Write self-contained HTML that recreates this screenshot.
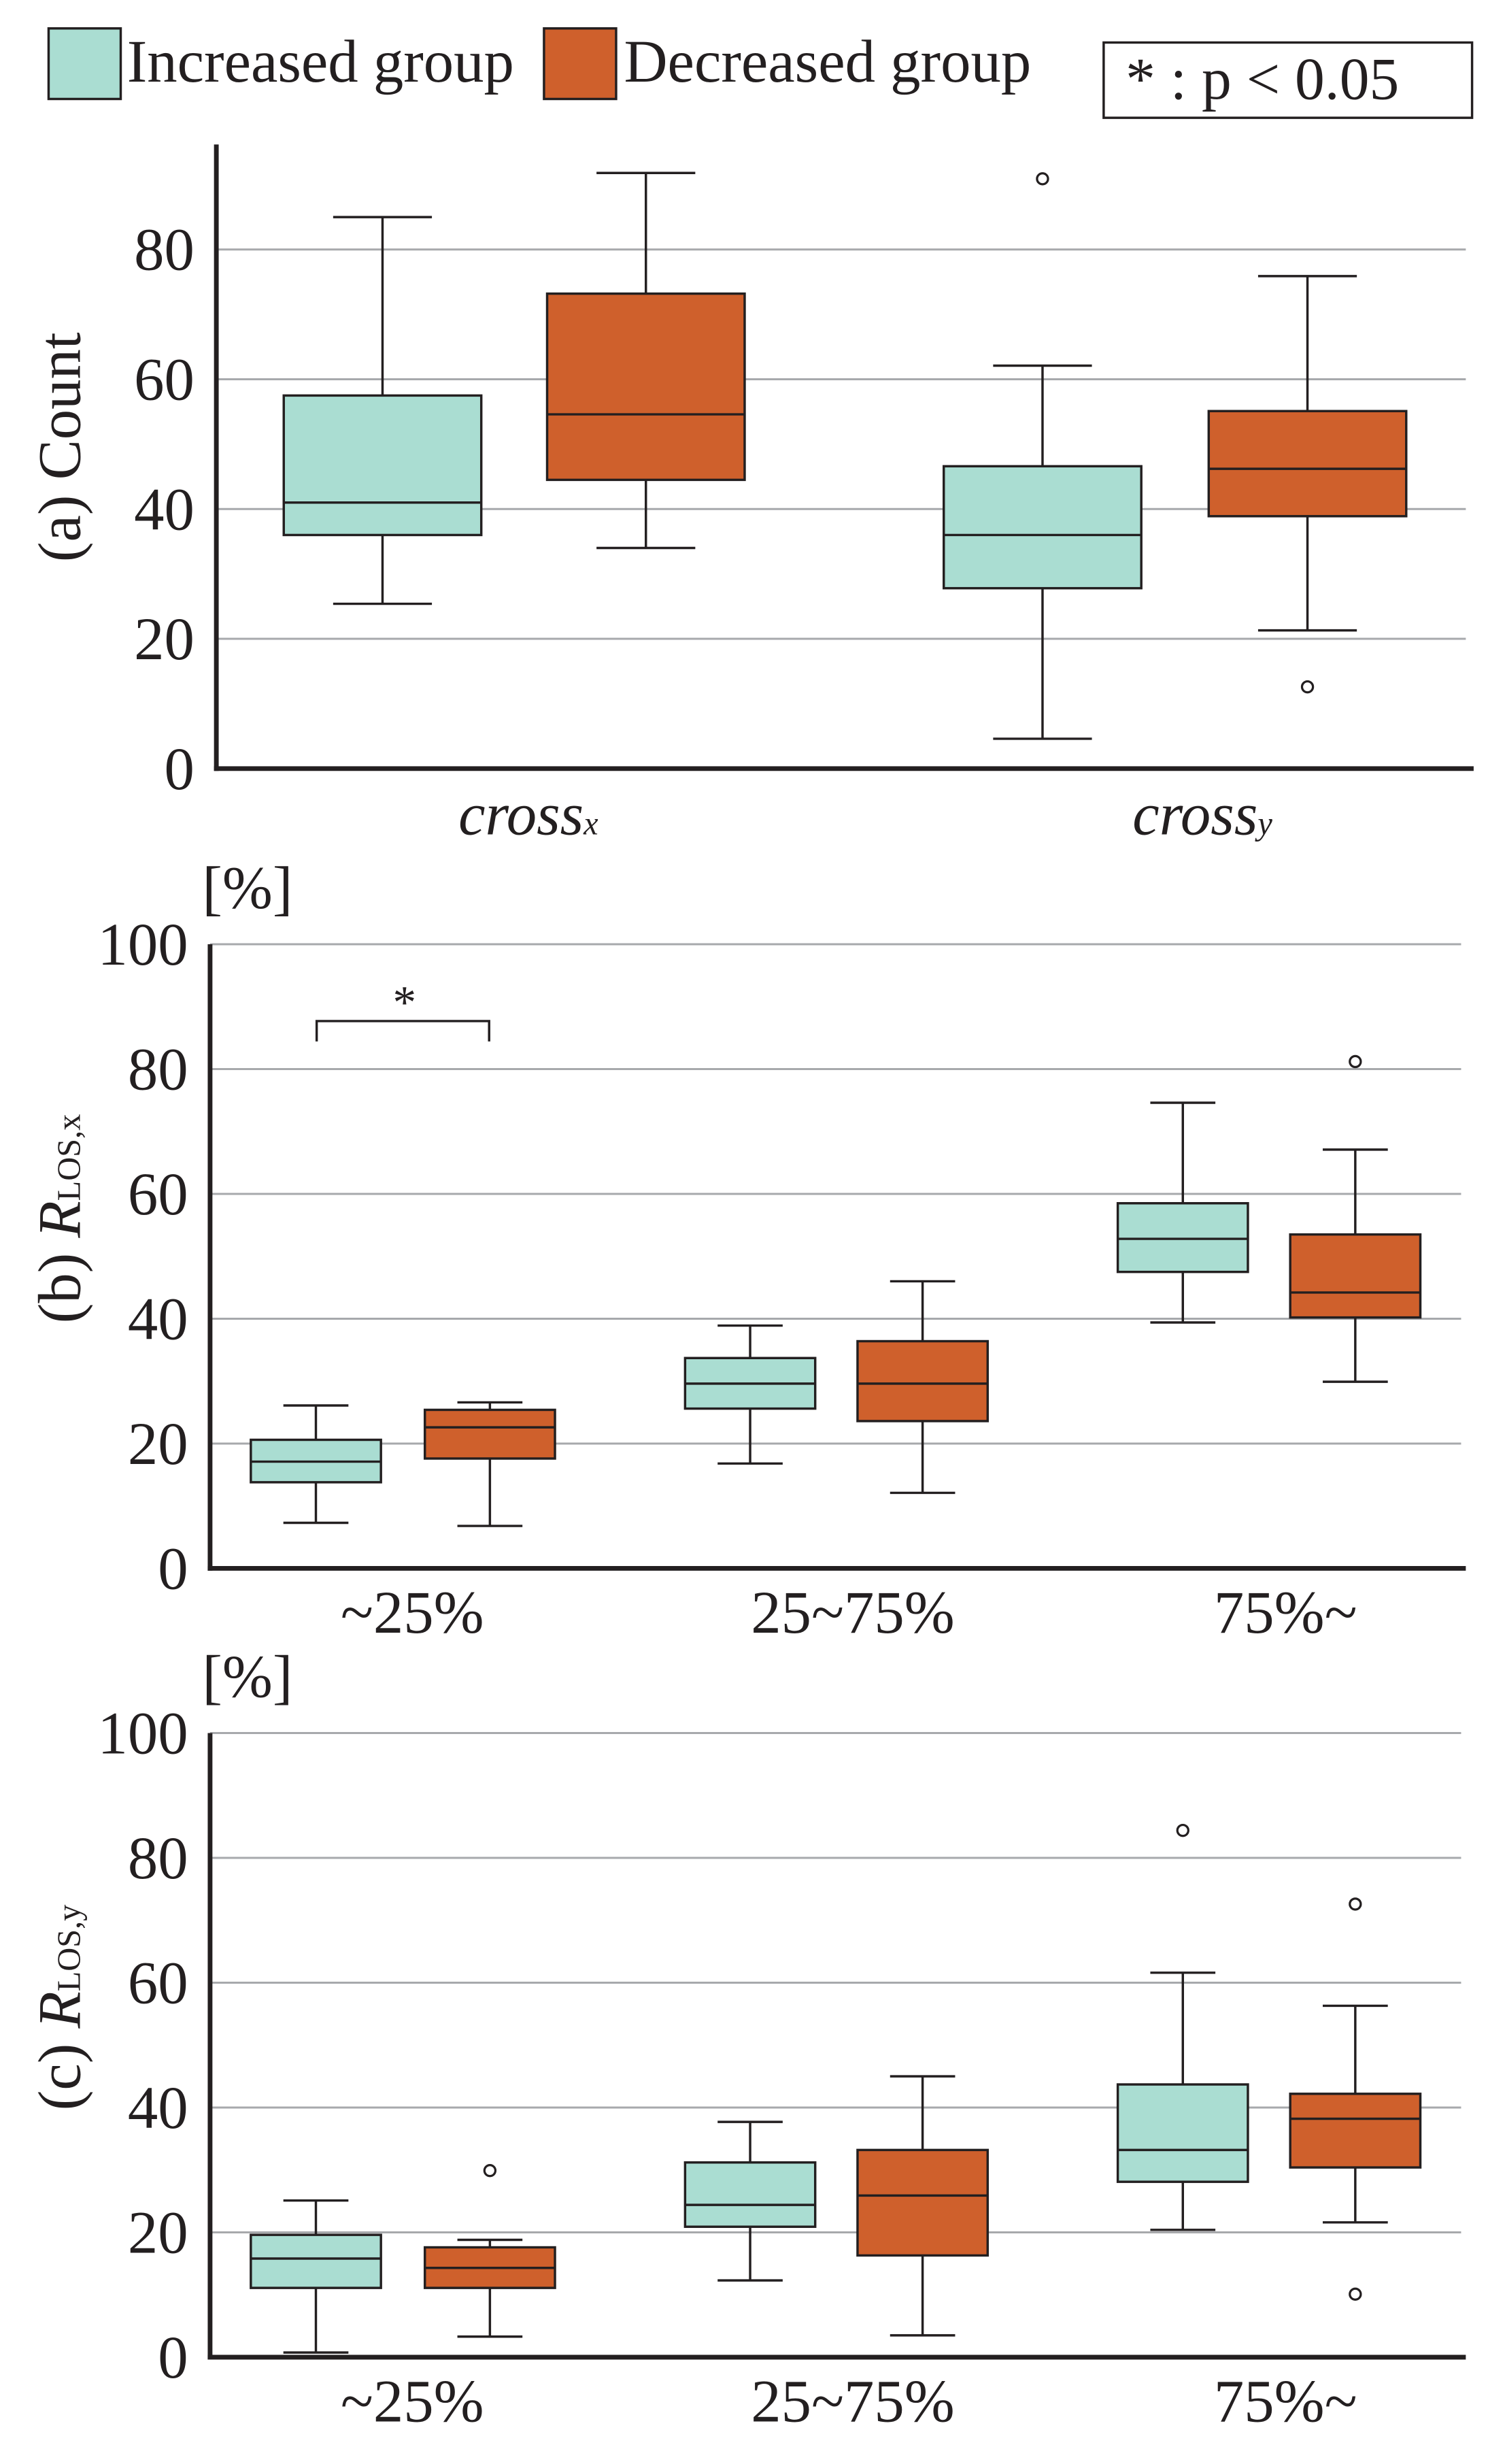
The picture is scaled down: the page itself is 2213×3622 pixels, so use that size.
<!DOCTYPE html>
<html><head><meta charset="utf-8">
<style>html,body{margin:0;padding:0;background:#fff}svg{display:block}</style></head>
<body>
<svg id="chart" width="2213" height="3622" viewBox="0 0 960 1571" xmlns="http://www.w3.org/2000/svg" font-family="'Liberation Serif', serif" fill="#231f20">
<g>
<rect x="31" y="18" width="46" height="45" fill="#aaddd2" stroke="#231f20" stroke-width="1.5"/>
<text x="81" y="52" font-size="38.5">Increased group</text>
<rect x="347" y="18" width="46" height="45" fill="#cf602c" stroke="#231f20" stroke-width="1.5"/>
<text x="398" y="52" font-size="38.5">Decreased group</text>
<rect x="704" y="27" width="235" height="48" fill="none" stroke="#231f20" stroke-width="1.5"/>
<text x="718" y="63" font-size="38">* : p &lt; 0.05</text>
</g>
<g id="plots"></g>
</svg>
<script>
const teal="#aaddd2", orange="#cf602c";
// Panel a: [low, q1, median, q3, high]
const aCategories=["cross_x","cross_y"];
const aIncreased=[[25.4,36,41,57.5,85],[4.6,27.8,36,46.6,62.1]];
const aDecreased=[[34,44.5,54.6,73.2,91.8],[21.3,38.9,46.2,55.1,75.9]];
const aIncreasedOutliers=[[],[90.9]];
const aDecreasedOutliers=[[],[12.6]];
const aTicks=[0,20,40,60,80];
// Panel b
const bCategories=["~25%","25~75%","75%~"];
const bIncreased=[[7.3,13.8,17.1,20.6,26.1],[16.8,25.6,29.6,33.7,38.9],[39.4,47.5,52.8,58.5,74.6]];
const bDecreased=[[6.8,17.6,22.6,25.4,26.6],[12.1,23.6,29.6,36.4,46.0],[29.9,40.2,44.2,53.5,67.1]];
const bIncreasedOutliers=[[],[],[]];
const bDecreasedOutliers=[[],[],[81.2]];
// Panel c
const cCategories=["~25%","25~75%","75%~"];
const cIncreased=[[0.75,11.1,15.8,19.6,25.1],[12.3,20.9,24.4,31.2,37.7],[20.4,28.1,33.2,43.7,61.6]];
const cDecreased=[[3.3,11.1,14.3,17.6,18.8],[3.5,16.3,25.9,33.2,45.0],[21.6,30.4,38.2,42.2,56.3]];
const cIncreasedOutliers=[[],[],[84.4]];
const cDecreasedOutliers=[[29.9],[],[72.6,10.1]];
const pctTicks=[0,20,40,60,80,100];

const NS="http://www.w3.org/2000/svg";
const FS=38.5;
const root=document.getElementById("plots");
function mk(tag,attrs,parent){const e=document.createElementNS(NS,tag);for(const k in attrs)e.setAttribute(k,attrs[k]);(parent||root).appendChild(e);return e;}

function panel(cfg){
  const g=mk("g",{});
  
  
  const y=v=>cfg.y0-(v)*(cfg.y0-cfg.yTop)/cfg.vTop;
  cfg.ticks.forEach(t=>{
    if(t>0){const l=mk("line",{x1:cfg.ax,x2:cfg.gx2,y1:y(t),y2:y(t),stroke:"#a7a9ac","stroke-width":1.3},g);
      
      }
    const tx=mk("text",{x:cfg.ax-14,y:y(t)+13,"font-size":FS,"text-anchor":"end"},g);
    
    
    tx.textContent=t;
  });
  const ya=mk("line",{x1:cfg.ax,x2:cfg.ax,y1:cfg.axTop,y2:cfg.y0+1.5,stroke:"#231f20","stroke-width":3},g);
  
  
  const xa=mk("line",{x1:cfg.ax-1.5,x2:cfg.axRight,y1:cfg.y0,y2:cfg.y0,stroke:"#231f20","stroke-width":3},g);
  
  
  const series=[[cfg.inc,cfg.incOut,teal,0],[cfg.dec,cfg.decOut,orange,1]];
  cfg.cats.forEach((c,i)=>{
    series.forEach(([vals,outs,col,s])=>{
      const v=vals[i];
      const x1=cfg.boxX[i][s], w=cfg.bw, cx=x1+w/2, cw=w*0.25;
      const bg=mk("g",{},g);
      
      
      mk("line",{x1:cx,x2:cx,y1:y(v[0]),y2:y(v[4]),stroke:"#231f20","stroke-width":1.5},bg);
      mk("line",{x1:cx-cw,x2:cx+cw,y1:y(v[0]),y2:y(v[0]),stroke:"#231f20","stroke-width":1.5},bg);
      mk("line",{x1:cx-cw,x2:cx+cw,y1:y(v[4]),y2:y(v[4]),stroke:"#231f20","stroke-width":1.5},bg);
      mk("rect",{x:x1,y:y(v[3]),width:w,height:y(v[1])-y(v[3]),fill:col,stroke:"#231f20","stroke-width":1.5},bg);
      mk("line",{x1:x1,x2:x1+w,y1:y(v[2]),y2:y(v[2]),stroke:"#231f20","stroke-width":1.5},bg);
      outs[i].forEach(o=>{
        const ci=mk("circle",{cx:cx,cy:y(o),r:3.5,fill:"#fff",stroke:"#231f20","stroke-width":1.4},g);
        
        
      });
    });
  });
  return {g,y};
}

const pa=panel({name:"panel-a-count",y0:490,yTop:159,vTop:80,ax:138,axTop:92,axRight:940,gx2:935,ticks:aTicks,
  cats:aCategories,inc:aIncreased,dec:aDecreased,incOut:aIncreasedOutliers,decOut:aDecreasedOutliers,bw:126,
  boxX:[[181,349],[602,771]]});
[["cross","x",337],["cross","y",767]].forEach(([b,s,x])=>{
  const t=mk("text",{x:x,y:532,"font-size":FS,"font-style":"italic","text-anchor":"middle"},pa.g);
  
  
  t.innerHTML=b+'<tspan font-size="21">'+s+'</tspan>';
});
const at=mk("text",{transform:"translate(51,285) rotate(-90)","font-size":FS,"text-anchor":"middle"},pa.g);


at.textContent="(a) Count";

function pctPanel(name,top,inc,dec,io,dout,cats,label){
  const y0=top+398;
  const p=panel({name:name,y0:y0,yTop:top,vTop:100,ax:134,axTop:top,axRight:935,gx2:932,ticks:pctTicks,
    cats:cats,inc:inc,dec:dec,incOut:io,decOut:dout,bw:83,boxX:[[160,271],[437,547],[713,823]]});
  const u=mk("text",{x:129,y:top-23,"font-size":FS},p.g);
  
  
  u.textContent="[%]";
  [263,544,820].forEach((x,i)=>{
    const t=mk("text",{x:x,y:y0+41,"font-size":FS,"text-anchor":"middle"},p.g);
    
    
    t.textContent=cats[i];
  });
  const yt=mk("text",{transform:"translate(51,"+(top+175)+") rotate(-90)","font-size":FS,"text-anchor":"middle"},p.g);
  
  
  yt.innerHTML=label+' <tspan font-style="italic">R</tspan><tspan font-size="21">LOS,'+(name.endsWith('x')?'x':'y')+'</tspan>';
  return p;
}
const pb=pctPanel("panel-b-rlos-x",602,bIncreased,bDecreased,bIncreasedOutliers,bDecreasedOutliers,bCategories,"(b)");
const br=mk("path",{d:"M202,664 V651 H312 V664",fill:"none",stroke:"#231f20","stroke-width":1.5},pb.g);


const st=mk("text",{x:258,y:649,"font-size":30,"text-anchor":"middle"},pb.g);


st.textContent="*";
pctPanel("panel-c-rlos-y",1105,cIncreased,cDecreased,cIncreasedOutliers,cDecreasedOutliers,cCategories,"(c)");
</script>
</body></html>
